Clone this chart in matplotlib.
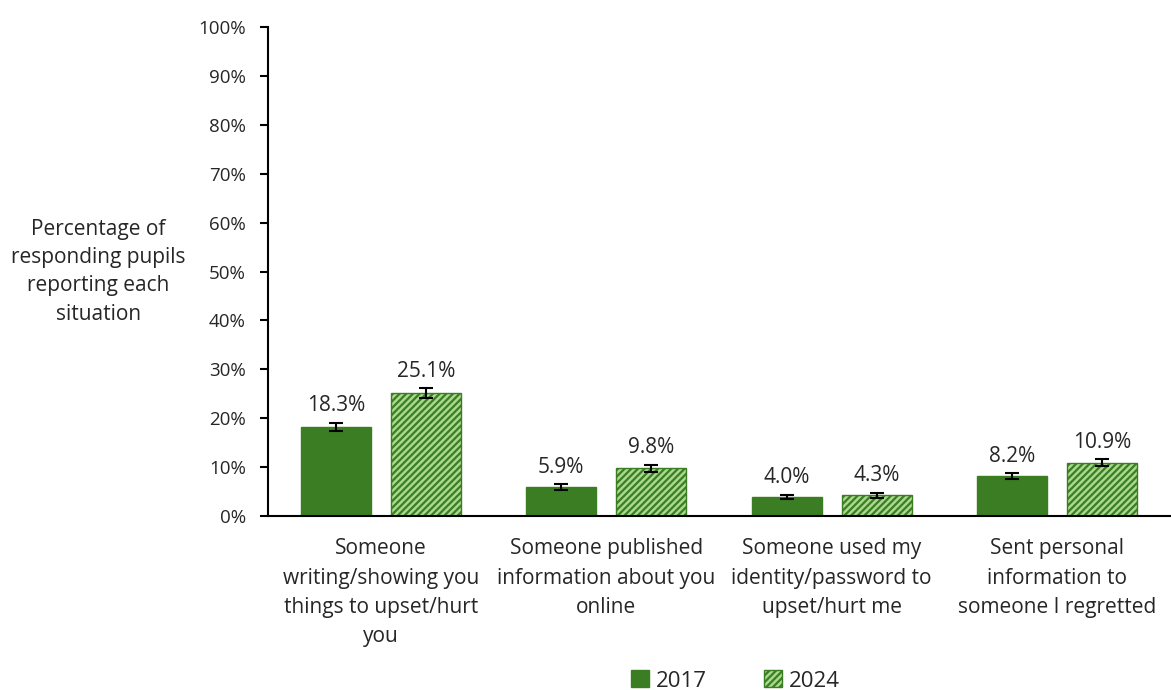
import matplotlib
matplotlib.use("Agg")
import matplotlib.pyplot as plt
import numpy as np

plt.rcParams['font.family'] = ['Open Sans', 'DejaVu Sans']
plt.rcParams['hatch.linewidth'] = 1.6

categories = ["Someone\nwriting/showing you\nthings to upset/hurt\nyou",
              "Someone published\ninformation about you\nonline",
              "Someone used my\nidentity/password to\nupset/hurt me",
              "Sent personal\ninformation to\nsomeone I regretted"]
v2017 = [18.3, 5.9, 4.0, 8.2]
v2024 = [25.1, 9.8, 4.3, 10.9]
err2017 = [0.8, 0.6, 0.4, 0.6]
err2024 = [1.0, 0.7, 0.5, 0.7]
yticks = list(range(0, 101, 10))

dark = "#3a7d22"
light = "#a9d88e"
txt = "#262626"

fig = plt.figure(figsize=(11.71, 6.9), dpi=100)
ax = fig.add_axes([0.229, 0.252, 0.770, 0.709])

x = np.arange(len(categories))
w = 0.31
b1 = ax.bar(x - 0.2, v2017, w, color=dark, edgecolor=dark, label="2017", zorder=2)
b2 = ax.bar(x + 0.2, v2024, w, color=light, edgecolor=dark, hatch="/////", linewidth=1, label="2024", zorder=2)
ax.errorbar(x - 0.2, v2017, yerr=err2017, fmt='none', ecolor='black', elinewidth=1.5, capsize=5, capthick=1.5, zorder=3)
ax.errorbar(x + 0.2, v2024, yerr=err2024, fmt='none', ecolor='black', elinewidth=1.5, capsize=5, capthick=1.5, zorder=3)

for xi, v, e in zip(x - 0.2, v2017, err2017):
    ax.text(xi, v + e + 1.3, f"{v:.1f}%", ha='center', va='bottom', fontsize=15, color=txt)
for xi, v, e in zip(x + 0.2, v2024, err2024):
    ax.text(xi, v + e + 1.3, f"{v:.1f}%", ha='center', va='bottom', fontsize=15, color=txt)

ax.set_xlim(-0.5, len(categories) - 0.5)
ax.set_ylim(0, 100)
ax.set_yticks(yticks)
ax.set_yticklabels([f"{t}%" for t in yticks], fontsize=13.5, color=txt)
ax.set_xticks(x)
ax.set_xticklabels(categories, fontsize=15, color=txt, va='top', linespacing=1.52)
ax.tick_params(axis='x', length=0, pad=16)
ax.tick_params(axis='y', length=6, width=1.5, direction='out', pad=10)
for s in ['top', 'right']:
    ax.spines[s].set_visible(False)
ax.spines['left'].set_linewidth(1.5)
ax.spines['bottom'].set_linewidth(1.5)

fig.text(0.084, 0.606, "Percentage of\nresponding pupils\nreporting each\nsituation", ha='center', va='center',
         fontsize=15, color=txt, linespacing=1.45)

fig.legend(handles=[b1, b2], labels=["2017", "2024"], loc='center', bbox_to_anchor=(0.628, 0.013),
           ncol=2, frameon=False, fontsize=16, handlelength=0.8, handleheight=0.8, columnspacing=2.6,
           handletextpad=0.3, labelcolor=txt)

fig.savefig("out.png", dpi=100)
